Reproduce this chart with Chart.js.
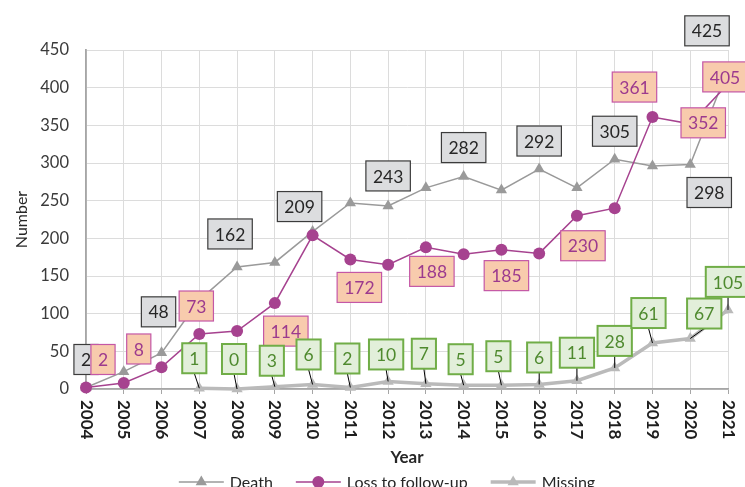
<!DOCTYPE html>
<html>
<head>
<meta charset="utf-8">
<script src="https://cdn.jsdelivr.net/npm/chart.js@4"></script>
<style>
  html, body { margin: 0; padding: 0; background: #fff; overflow: hidden; }
</style>
</head>
<body>
<canvas id="chart" width="745" height="487"></canvas>
<script>
const years = ["2004", "2005", "2006", "2007", "2008", "2009", "2010", "2011", "2012",
               "2013", "2014", "2015", "2016", "2017", "2018", "2019", "2020", "2021"];
const death = [2, 23, 48, 118, 162, 168, 209, 247, 243, 267, 282, 264, 292, 267, 305, 296, 298, 425];
const lossToFollowUp = [2, 8, 29, 73, 77, 114, 204, 172, 165, 188, 179, 185, 180, 230, 240, 361, 352, 405];
const missing = [null, null, null, 1, 0, 3, 6, 2, 10, 7, 5, 5, 6, 11, 28, 61, 67, 105];
const yMax = 450;
const yStep = 50;

// where each data label box sits, relative to its point (null = no label)
const deathLabelOffsets = [[0, -28], null, [-3, -41], null, [-7, -33], null, [-13, -25], null, [0, -30],
                           null, [0, -29], null, [0, -28], null, [0, -28], null, [19, 28], [-21, -38]];
const lossLabelOffsets = [[17, -28], [15, -34], null, [-3, -28], null, [11, 28], null, [9, 28], null,
                          [6, 24], null, [5, 26], null, [6, 30], null, [-18, -30], [13, -1], [-3, -7]];
const missingLabelOffsets = [null, null, null, [-5, -30], [-3, -30], [-3, -26], [-4, -30], [-3, -29], [-2, -27],
                             [-2, -30], [-3, -26], [-3, -29], [0, -27], [0, -28], [0, -27], [-4, -30], [14, -25], [0, -28]];

const FONT = "Lato, 'Noto Sans', sans-serif";
const GREY = "#9a9a9a";
const PURPLE = "#a6428f";
const LIGHT_GREY = "#bababa";

const labelStyles = [
    { offsets: deathLabelOffsets, fill: "#dcdddf", stroke: "#3c3c3c", lineWidth: 1.2, text: "#262626", leader: false },
    { offsets: lossLabelOffsets, fill: "#f8cbad", stroke: "#c457a6", lineWidth: 1.2, text: "#9c3a8e", leader: false },
    { offsets: missingLabelOffsets, fill: "#e2efda", stroke: "#70ad47", lineWidth: 2, text: "#4f8a2f", leader: true },
];

const dataLabels = {
    id: "dataLabels",
    afterDatasetsDraw(chart) {
        const ctx = chart.ctx;
        ctx.save();
        ctx.font = "17.5px " + FONT;
        ctx.textAlign = "center";
        ctx.textBaseline = "middle";
        labelStyles.forEach((style, di) => {
            const meta = chart.getDatasetMeta(di);
            const values = chart.data.datasets[di].data;
            style.offsets.forEach((off, i) => {
                if (!off || values[i] == null) return;
                const pt = meta.data[i];
                const text = String(values[i]);
                const cx = pt.x + off[0];
                const cy = pt.y + off[1];
                const w = ctx.measureText(text).width + 14;
                const h = 30;
                if (style.leader && pt.y - (cy + h / 2) > 3) {
                    ctx.strokeStyle = "#000";
                    ctx.lineWidth = 1;
                    ctx.beginPath();
                    ctx.moveTo(pt.x, pt.y);
                    ctx.lineTo(cx, cy + h / 2);
                    ctx.stroke();
                }
                ctx.fillStyle = style.fill;
                ctx.fillRect(cx - w / 2, cy - h / 2, w, h);
                ctx.strokeStyle = style.stroke;
                ctx.lineWidth = style.lineWidth;
                ctx.strokeRect(cx - w / 2, cy - h / 2, w, h);
                ctx.fillStyle = style.text;
                ctx.fillText(text, cx, cy + 1);
            });
        });
        ctx.restore();
    },
};

function drawTriangle(ctx, x, y, r) {
    ctx.beginPath();
    ctx.moveTo(x, y - r);
    ctx.lineTo(x + r * 0.866, y + r * 0.5);
    ctx.lineTo(x - r * 0.866, y + r * 0.5);
    ctx.closePath();
    ctx.fill();
}

// vertical year labels (read top to bottom) and the legend under the axis title
const axisExtras = {
    id: "axisExtras",
    afterDraw(chart) {
        const ctx = chart.ctx;
        const xScale = chart.scales.x;
        ctx.save();
        ctx.font = "bold 17px " + FONT;
        ctx.fillStyle = "#1e1e1e";
        ctx.textAlign = "left";
        ctx.textBaseline = "middle";
        years.forEach((label, i) => {
            ctx.save();
            ctx.translate(xScale.getPixelForValue(i), xScale.top + 11);
            ctx.rotate(Math.PI / 2);
            ctx.fillText(label, 0, 0);
            ctx.restore();
        });

        const items = [
            { text: "Death", color: GREY, width: 1.5, marker: "triangle" },
            { text: "Loss to follow-up", color: PURPLE, width: 1.5, marker: "circle" },
            { text: "Missing", color: LIGHT_GREY, width: 3.5, marker: "triangle" },
        ];
        ctx.font = "16px " + FONT;
        const glyph = 45, gap = 6, spacing = 23;
        let total = 0;
        items.forEach((it, i) => {
            it.tw = ctx.measureText(it.text).width;
            total += glyph + gap + it.tw + (i < items.length - 1 ? spacing : 0);
        });
        let x = 387 - total / 2;
        const y = 482;
        items.forEach(it => {
            ctx.strokeStyle = it.color;
            ctx.fillStyle = it.color;
            ctx.lineWidth = it.width;
            ctx.beginPath();
            ctx.moveTo(x, y);
            ctx.lineTo(x + glyph, y);
            ctx.stroke();
            if (it.marker === "circle") {
                ctx.beginPath();
                ctx.arc(x + glyph / 2, y, 6, 0, Math.PI * 2);
                ctx.fill();
            } else {
                drawTriangle(ctx, x + glyph / 2, y, 6.5);
            }
            ctx.fillStyle = "#262626";
            ctx.fillText(it.text, x + glyph + gap, y + 1);
            x += glyph + gap + it.tw + spacing;
        });
        ctx.restore();
    },
};

function drawChart() {
    const ctx = document.getElementById("chart").getContext("2d");
    Chart.defaults.font.family = FONT;

    new Chart(ctx, {
        type: "line",
        data: {
            labels: years,
            datasets: [
                {
                    label: "Death",
                    data: death,
                    borderColor: GREY,
                    backgroundColor: GREY,
                    borderWidth: 1.5,
                    pointStyle: "triangle",
                    pointRadius: 6.5,
                    pointBorderWidth: 0,
                    tension: 0,
                    clip: false,
                    order: 3,
                },
                {
                    label: "Loss to follow-up",
                    data: lossToFollowUp,
                    borderColor: PURPLE,
                    backgroundColor: PURPLE,
                    borderWidth: 1.5,
                    pointStyle: "circle",
                    pointRadius: 6,
                    pointBorderWidth: 0,
                    tension: 0,
                    clip: false,
                    order: 2,
                },
                {
                    label: "Missing",
                    data: missing,
                    borderColor: LIGHT_GREY,
                    backgroundColor: LIGHT_GREY,
                    borderWidth: 3.5,
                    pointStyle: "triangle",
                    pointRadius: 6.5,
                    pointBorderWidth: 0,
                    tension: 0,
                    clip: false,
                    order: 1,
                },
            ],
        },
        options: {
            responsive: false,
            animation: false,
            layout: { padding: { top: 50, right: 17, left: 0, bottom: 0 } },
            scales: {
                x: {
                    offset: false,
                    afterFit: scale => { scale.height = 98; },
                    grid: { color: "#dcdcdc", tickLength: 5, tickColor: "#a6a6a6" },
                    border: { color: "#a6a6a6", width: 1.8 },
                    ticks: { display: false },
                    title: {
                        display: true,
                        text: "Year",
                        color: "#262626",
                        font: { size: 17, weight: "bold" },
                        padding: { bottom: 19, top: 0 },
                    },
                },
                y: {
                    min: 0,
                    max: yMax,
                    afterFit: scale => { scale.width = 86; },
                    grid: { color: "#dcdcdc", drawTicks: false },
                    border: { color: "#a6a6a6", width: 1.8 },
                    ticks: {
                        stepSize: yStep,
                        padding: 17,
                        color: "#3a3a3a",
                        font: { size: 16.5 },
                    },
                    title: {
                        display: true,
                        text: "Number",
                        color: "#262626",
                        font: { size: 16 },
                        padding: { top: 12, bottom: 0 },
                    },
                },
            },
            plugins: {
                legend: { display: false },
                tooltip: { enabled: false },
            },
        },
        plugins: [dataLabels, axisExtras],
    });
}

if (document.fonts && document.fonts.load) {
    Promise.all([
        document.fonts.load("16px Lato"),
        document.fonts.load("bold 16px Lato"),
    ]).then(drawChart, drawChart);
} else {
    drawChart();
}
</script>
</body>
</html>
